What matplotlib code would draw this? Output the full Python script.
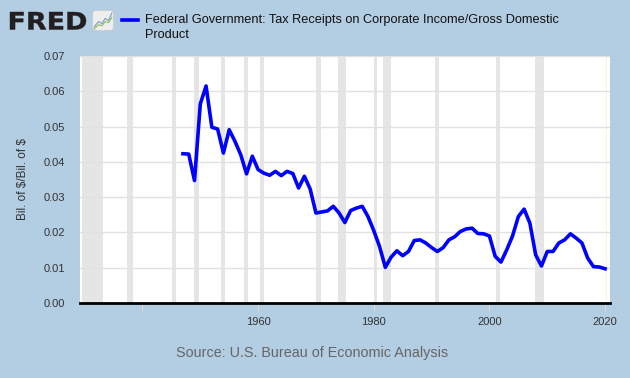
import matplotlib
matplotlib.use('Agg')
import matplotlib.pyplot as plt
from matplotlib.patches import FancyBboxPatch, PathPatch
from matplotlib.textpath import TextPath
from matplotlib.font_manager import FontProperties
from matplotlib.transforms import Affine2D

plt.rcParams['font.family'] = ['Liberation Sans', 'DejaVu Sans']

# Annual data, 1947-2020
years = list(range(1947, 2021))
ratio = [
    0.0423, 0.0422, 0.0347, 0.0564, 0.0615, 0.0498, 0.0493, 0.0425, 0.0491, 0.0458,
    0.0420, 0.0366, 0.0416, 0.0378, 0.0368, 0.0362, 0.0373, 0.0361, 0.0373, 0.0367,
    0.0326, 0.0359, 0.0323, 0.0255, 0.0258, 0.0261, 0.0274, 0.0255, 0.0228, 0.0262,
    0.0269, 0.0274, 0.0245, 0.0205, 0.0160, 0.0101, 0.0130, 0.0148, 0.0134, 0.0146,
    0.0177, 0.0179, 0.0170, 0.0157, 0.0146, 0.0157, 0.0179, 0.0188, 0.0203, 0.0210,
    0.0212, 0.0197, 0.0196, 0.0190, 0.0132, 0.0116, 0.0151, 0.0190, 0.0245, 0.0266,
    0.0226, 0.0136, 0.0105, 0.0146, 0.0146, 0.0170, 0.0179, 0.0196, 0.0184, 0.0170,
    0.0127, 0.0103, 0.0102, 0.0097,
]

# NBER recessions (decimal years)
recessions = [
    (1929.6, 1933.2), (1937.4, 1938.45), (1945.1, 1945.8), (1948.9, 1949.8),
    (1953.55, 1954.35), (1957.6, 1958.3), (1960.3, 1961.1), (1969.95, 1970.9),
    (1973.9, 1975.2), (1980.0, 1980.5), (1981.55, 1982.9), (1990.55, 1991.2),
    (2001.2, 2001.9), (2007.95, 2009.5),
]
recession_2020 = (2020.1, 2020.35)

yticks = [0.00, 0.01, 0.02, 0.03, 0.04, 0.05, 0.06, 0.07]
xticks = [1940, 1960, 1980, 2000, 2020]
xticklabels = ['', '1960', '1980', '2000', '2020']

W, H = 630, 378
bg = '#b3cde3'
fig = plt.figure(figsize=(6.3, 3.78), dpi=100, facecolor=bg)
ax = fig.add_axes([80/W, 1 - 303/H, 530/W, (303 - 56)/H])
ax.set_facecolor('white')

for start, end in recessions:
    ax.axvspan(start, end, color='#e5e5e5', lw=0, zorder=0)
ax.axvspan(*recession_2020, color='#f6f6df', lw=0, zorder=0)

ax.plot(years, ratio, color='#0000ff', lw=2.6, zorder=3, solid_joinstyle='round')

ax.set_xlim(1929.2, 2020.85)
ax.set_ylim(0, 0.07)
ax.set_yticks(yticks)
ax.set_yticklabels([f'{v:.2f}' for v in yticks])
ax.set_xticks(xticks)
ax.set_xticklabels(xticklabels)
ax.yaxis.grid(True, color='#e1e1e1', lw=1, zorder=1)
ax.set_axisbelow(True)

for s in ['top', 'right', 'left']:
    ax.spines[s].set_visible(False)
ax.spines['bottom'].set_color('black')
ax.spines['bottom'].set_linewidth(2)
ax.spines['bottom'].set_zorder(5)

ax.tick_params(axis='y', length=0, pad=11, labelsize=8, labelcolor='#333333')
ax.tick_params(axis='x', length=6, width=0.8, color='#dcdcdc', direction='out',
               pad=4, labelsize=8, labelcolor='#333333')

ax.set_ylabel(r'Bil. of \$/Bil. of \$', fontsize=8.5, color='#333333', labelpad=10)

# FRED logo, stretched to its box (x 10-86, y 12-29 px)
tp = TextPath((0, 0), 'FRED', size=1, prop=FontProperties(family='DejaVu Sans', weight='bold'))
bb = tp.get_extents()
logo_tr = (Affine2D().translate(-bb.x0, -bb.y0)
           .scale(76 / bb.width, 17.5 / bb.height)
           .translate(10, H - 29.5))
fig.patches.append(PathPatch(logo_tr.transform_path(tp), fc='#231f20', ec='#231f20',
                             lw=0.3, transform=None, figure=fig))

icon = fig.add_axes([92/W, 1 - 31/H, 22/W, 21/H])
icon.set_xlim(0, 1)
icon.set_ylim(0, 1)
icon.axis('off')
icon.add_patch(FancyBboxPatch((0.03, 0.03), 0.94, 0.94,
                              boxstyle='round,pad=0,rounding_size=0.15',
                              fc='#eeeeee', ec='#cccccc', lw=0.5))
icon.plot([0.1, 0.3, 0.45, 0.6, 0.75, 0.9], [0.2, 0.45, 0.35, 0.6, 0.5, 0.85],
          color='#7a9cc6', lw=0.8)
icon.plot([0.1, 0.3, 0.45, 0.6, 0.75, 0.9], [0.1, 0.3, 0.25, 0.45, 0.4, 0.65],
          color='#8dbb5a', lw=0.8)

# legend
fig.lines.append(plt.Line2D([122/W, 138/W], [1 - 20/H, 1 - 20/H],
                            transform=fig.transFigure, color='#0000ff', lw=2.6))
fig.text(145/W, 1 - 20/H, 'Federal Government: Tax Receipts on Corporate Income/Gross Domestic',
         fontsize=9.2, color='#111111', ha='left', va='center')
fig.text(145/W, 1 - 35/H, 'Product',
         fontsize=9.2, color='#111111', ha='left', va='center')

fig.text(312/W, 1 - 353/H, 'Source: U.S. Bureau of Economic Analysis',
         fontsize=10.4, color='#666666', ha='center', va='center')

fig.savefig('out.png', dpi=100, facecolor=bg)
